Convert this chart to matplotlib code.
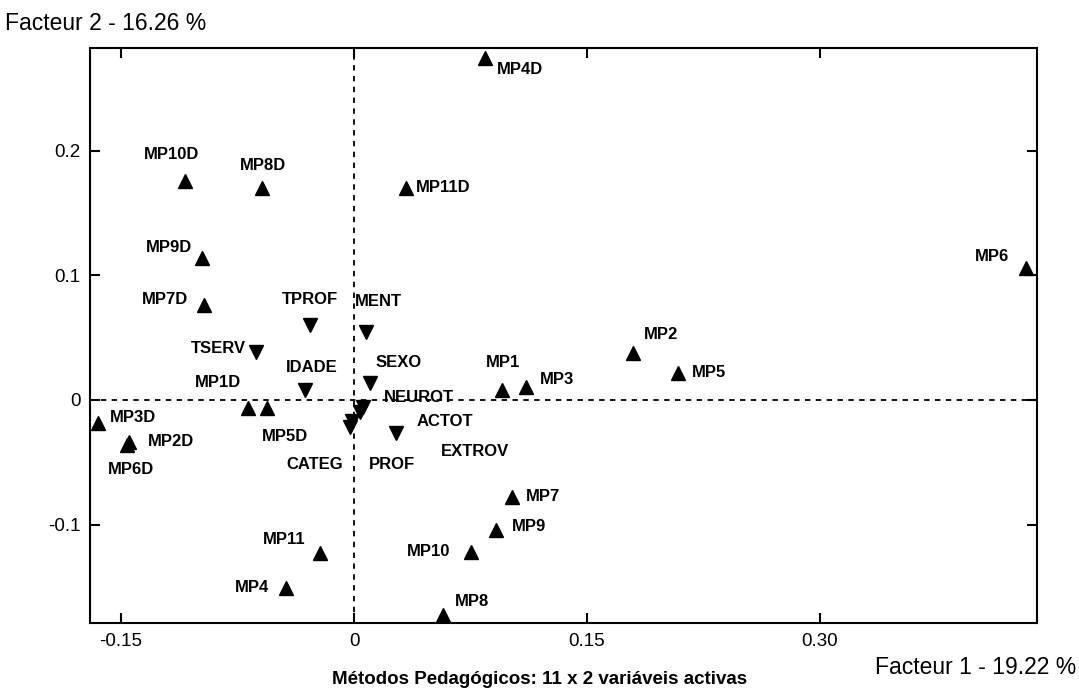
import matplotlib
matplotlib.use("Agg")
import matplotlib.pyplot as plt

# variaveis activas (triangulos para cima)
act_names = ["MP4D", "MP10D", "MP8D", "MP11D", "MP9D", "MP7D", "MP6", "MP2", "MP5",
             "MP1", "MP3", "MP1D", "MP5D", "MP3D", "MP2D", "MP6D", "MP7", "MP9",
             "MP10", "MP11", "MP4", "MP8"]
act_x = [0.0844, -0.1088, -0.0592, 0.0335, -0.0979, -0.0966, 0.4327, 0.1797, 0.2086,
         0.0953, 0.1108, -0.0683, -0.0560, -0.1648, -0.1449, -0.1462, 0.1017, 0.0914,
         0.0753, -0.0219, -0.0438, 0.0573]
act_y = [0.2743, 0.1756, 0.1700, 0.1700, 0.1139, 0.0762, 0.1059, 0.0377, 0.0217,
         0.0080, 0.0104, -0.0064, -0.0064, -0.0184, -0.0337, -0.0360, -0.0778, -0.1043,
         -0.1219, -0.1227, -0.1508, -0.1724]

# variaveis suplementares (triangulos para baixo)
sup_names = ["TPROF", "MENT", "TSERV", "IDADE", "SEXO", "NEUROT", "EXTROV", "ACTOT",
             "CATEG", "PROF"]
sup_x = [-0.0283, 0.0077, -0.0631, -0.0316, 0.0103, 0.0058, 0.0039, 0.0270, -0.0026, -0.0013]
sup_y = [0.0601, 0.0545, 0.0385, 0.0080, 0.0136, -0.0056, -0.0096, -0.0265, -0.0217, -0.0168]

xticks = [-0.15, 0, 0.15, 0.30]
xticklabels = ["-0.15", "0", "0.15", "0.30"]
yticks = [-0.1, 0, 0.1, 0.2]
yticklabels = ["-0.1", "0", "0.1", "0.2"]

# label offsets in pixels (dx, dy with y downwards) and alignment
offs = {
    "MP4D": (12, 12, "left"), "MP10D": (-13, -26, "center"), "MP8D": (1, -22, "center"),
    "MP11D": (10, 0, "left"), "MP9D": (-10, -10, "right"), "MP7D": (-16, -5, "right"),
    "MP6": (-17, -11, "right"), "MP2": (11, -18, "left"), "MP5": (14, 0, "left"),
    "MP1": (1, -27, "center"), "MP3": (14, -7, "left"), "MP1D": (-7, -25, "right"),
    "MP5D": (18, 29, "center"), "MP3D": (12, -5, "left"), "MP2D": (19, 0, "left"),
    "MP6D": (4, 25, "center"), "MP7": (14, 0, "left"), "MP9": (16, -3, "left"),
    "MP10": (-21, 0, "right"), "MP11": (-15, -13, "right"), "MP4": (-17, 0, "right"),
    "MP8": (12, -13, "left"),
    "TPROF": (0, -25, "center"), "MENT": (-11, -30, "left"), "TSERV": (-10, -3, "right"),
    "IDADE": (7, -22, "center"), "SEXO": (5, -20, "left"), "NEUROT": (21, -9, "left"),
    "EXTROV": (81, 40, "left"), "ACTOT": (21, -11, "left"), "CATEG": (-35, 38, "center"),
    "PROF": (40, 44, "center"),
}

plt.rcParams['font.family'] = ['Liberation Sans', 'DejaVu Sans']

fig = plt.figure(figsize=(10.79, 6.90), dpi=100)
ax = fig.add_axes([0.0834, 0.097, 0.8777, 0.833])

ax.axvline(0, color="black", lw=1.3, ls=(0, (3, 3)), zorder=1)
ax.axhline(0, color="black", lw=1.3, ls=(0, (3, 3)), zorder=1)

ax.plot(act_x, act_y, ls="none", marker="^", ms=10, color="black", zorder=3, clip_on=False)
ax.plot(sup_x, sup_y, ls="none", marker="v", ms=10, color="black", zorder=3, clip_on=False)

for n, x, y in zip(act_names + sup_names, act_x + sup_x, act_y + sup_y):
    dx, dy, ha = offs[n]
    ax.annotate(n, (x, y), xytext=(dx, -dy), textcoords="offset pixels",
                ha=ha, va="center", fontsize=12, fontweight="bold")

ax.set_xlim(-0.170, 0.4397)
ax.set_ylim(-0.179, 0.282)
ax.set_xticks(xticks)
ax.set_xticklabels(xticklabels)
ax.set_yticks(yticks)
ax.set_yticklabels(yticklabels)
ax.tick_params(direction="in", length=7, width=1.5, top=True, right=True,
               labelsize=13.5, pad=7)
for s in ax.spines.values():
    s.set_linewidth(1.5)

fig.text(0.005, 0.966, "Facteur 2 - 16.26 %", fontsize=16.5, va="center", ha="left")
fig.text(0.997, 0.033, "Facteur 1 - 19.22 %", fontsize=16.5, va="center", ha="right")
fig.text(0.50, 0.015, "Métodos Pedagógicos: 11 x 2 variáveis activas",
         fontsize=13.5, fontweight="bold", va="center", ha="center")

fig.savefig("out.png", dpi=100)
